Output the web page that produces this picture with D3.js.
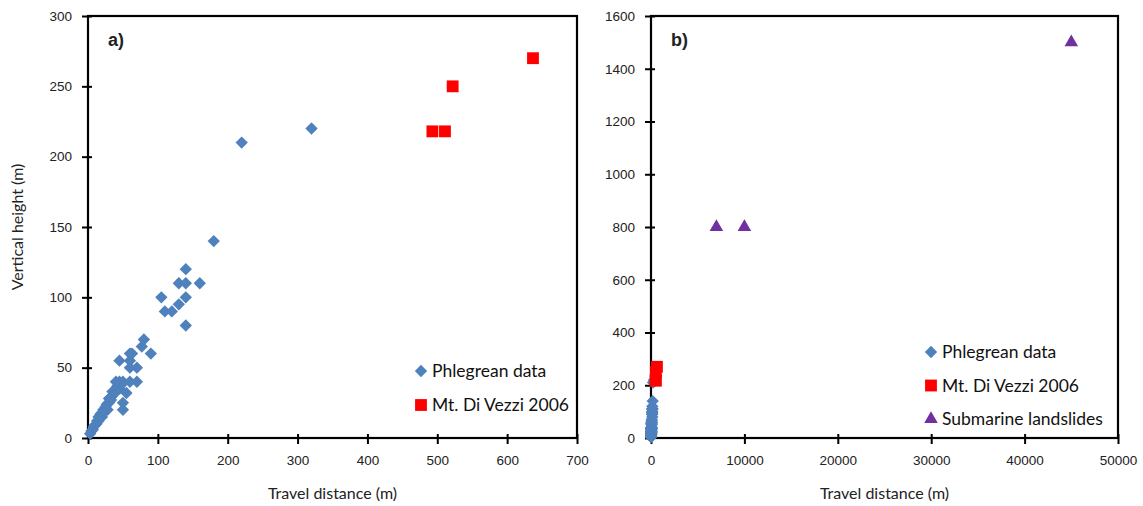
<!DOCTYPE html>
<html lang="en">
<head>
<meta charset="UTF-8">
<title>Travel distance vs vertical height</title>
<script src="https://d3js.org/d3.v7.min.js"></script>
<style>
    body { margin: 0; background: #fff; }
    .axis-title { font-family: Lato, "Open Sans", sans-serif; font-size: 16px; fill: #222; }
    .legend-text { font-family: Lato, "Open Sans", sans-serif; font-size: 17.5px; fill: #111; }
    .panel-tag { font-family: "Liberation Sans", Arial, sans-serif; font-size: 18px; font-weight: bold; fill: #222; }
</style>
</head>
<body>
<svg id="chart" width="1143" height="506"></svg>
<script>
    // Phlegrean data: [travel distance (m), vertical height (m)]
    const phlegrean = [
        [3, 3], [5, 5], [7, 6], [8, 8], [10, 9], [12, 10], [13, 12], [15, 12], [15, 15],
        [17, 14], [18, 17], [20, 15], [20, 18], [22, 20], [24, 19], [25, 22], [27, 24],
        [28, 20], [30, 25], [30, 28], [33, 27], [35, 30], [35, 33], [38, 32], [40, 35],
        [40, 40], [42, 37], [45, 35], [45, 40], [48, 38], [50, 40], [50, 25], [50, 20],
        [55, 32], [60, 40], [70, 40], [45, 55], [60, 50], [70, 50], [60, 55], [60, 60],
        [63, 60], [77, 65], [80, 70], [90, 60], [105, 100], [110, 90], [120, 90],
        [130, 95], [130, 110], [140, 110], [140, 120], [160, 110], [140, 100], [140, 80],
        [180, 140], [220, 210], [320, 220]
    ];
    const diVezzi = [[493, 218], [511, 218], [522, 250], [637, 270]];
    const submarine = [[7000, 800], [10000, 800], [45000, 1500]];

    const xTicksA = [0, 100, 200, 300, 400, 500, 600, 700];
    const yTicksA = [0, 50, 100, 150, 200, 250, 300];
    const xTicksB = [0, 10000, 20000, 30000, 40000, 50000];
    const yTicksB = [0, 200, 400, 600, 800, 1000, 1200, 1400, 1600];

    const legendA = ["Phlegrean data", "Mt. Di Vezzi 2006"];
    const legendB = ["Phlegrean data", "Mt. Di Vezzi 2006", "Submarine landslides"];

    const blue = "#4f81bd", red = "#ff0000", purple = "#7030a0";

    const svg = d3.select("#chart");

    const diamond = d3.symbol(d3.symbolSquare, 76)();
    const square = d3.symbol(d3.symbolSquare, 140)();
    const triangle = d3.symbol(d3.symbolTriangle, 80)();

    const series = {
        phl: { data: phlegrean, path: diamond, rot: 45, color: blue },
        dv: { data: diVezzi, path: square, rot: 0, color: red },
        sub: { data: submarine, path: triangle, rot: 0, color: purple }
    };

    function styleAxis(a) {
        a.attr("font-size", 13.5)
            .attr("font-family", "'Liberation Sans', Arial, sans-serif");
        a.select(".domain").remove();
        a.selectAll("text").attr("fill", "#222");
        a.selectAll("line").attr("stroke", "#000").attr("stroke-width", 2);
    }

    function drawPanel(opt) {
        const x = d3.scaleLinear().domain(opt.xDomain).range([opt.left, opt.right]);
        const y = d3.scaleLinear().domain(opt.yDomain).range([opt.bottom, opt.top]);
        const g = svg.append("g");

        // ticks cross the axis line a little, as in Excel
        g.append("g")
            .attr("transform", `translate(0,${opt.bottom})`)
            .call(d3.axisBottom(x).tickValues(opt.xTicks).tickFormat(d3.format("d"))
                .tickSizeInner(6).tickSizeOuter(0).tickPadding(11))
            .call(styleAxis)
            .call(a => a.selectAll("line").attr("y1", -4));

        g.append("g")
            .attr("transform", `translate(${opt.left},0)`)
            .call(d3.axisLeft(y).tickValues(opt.yTicks).tickFormat(d3.format("d"))
                .tickSizeInner(6).tickSizeOuter(0).tickPadding(10))
            .call(styleAxis)
            .call(a => a.selectAll("line").attr("x1", 4));

        // frame
        g.append("rect")
            .attr("x", opt.left).attr("y", opt.top)
            .attr("width", opt.right - opt.left).attr("height", opt.bottom - opt.top)
            .attr("fill", "none").attr("stroke", "#000").attr("stroke-width", 2.2);

        opt.series.forEach(s => {
            g.append("g").selectAll("path")
                .data(s.data)
                .enter()
                .append("path")
                .attr("d", s.path)
                .attr("fill", s.color)
                .attr("transform", d => `translate(${x(d[0])},${y(d[1])}) rotate(${s.rot})`);
        });

        g.append("text").attr("class", "panel-tag")
            .attr("x", opt.left + 20).attr("y", 46).text(opt.tag);

        g.append("text").attr("class", "axis-title")
            .attr("x", (opt.left + opt.right) / 2).attr("y", 499)
            .attr("text-anchor", "middle").text("Travel distance (m)");

        const lg = g.append("g");
        opt.legend.forEach((name, i) => {
            const s = opt.series[i];
            const ly = opt.legendY + i * opt.legendStep;
            lg.append("path")
                .attr("d", s.path)
                .attr("fill", s.color)
                .attr("transform", `translate(${opt.legendX},${ly}) rotate(${s.rot})`);
            lg.append("text").attr("class", "legend-text")
                .attr("x", opt.legendX + 11).attr("y", ly + 6).text(name);
        });
    }

    drawPanel({
        left: 88, right: 577, top: 16, bottom: 438,
        xDomain: [0, 700], yDomain: [0, 300],
        xTicks: xTicksA, yTicks: yTicksA, tag: "a)",
        series: [series.phl, series.dv],
        legend: legendA, legendX: 421, legendY: 371, legendStep: 34
    });

    drawPanel({
        left: 651, right: 1118, top: 16, bottom: 438,
        xDomain: [0, 50000], yDomain: [0, 1600],
        xTicks: xTicksB, yTicks: yTicksB, tag: "b)",
        series: [series.phl, series.dv, series.sub],
        legend: legendB, legendX: 931, legendY: 352, legendStep: 33.5
    });

    svg.append("text").attr("class", "axis-title")
        .attr("transform", "translate(23,227) rotate(-90)")
        .attr("text-anchor", "middle").text("Vertical height (m)");
</script>
</body>
</html>
